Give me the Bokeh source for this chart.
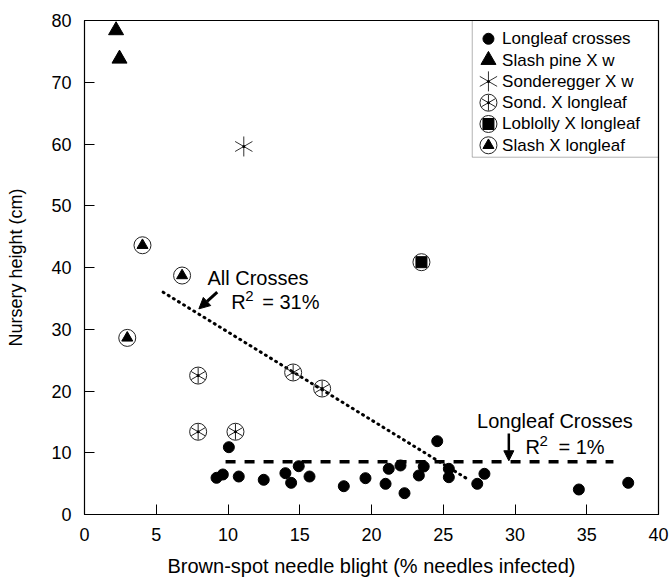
from bokeh.plotting import figure
from bokeh.models import Range1d, Label, Arrow, NormalHead, BoxAnnotation, FixedTicker
from bokeh.embed import file_html
from bokeh.resources import INLINE

# ---------------- data ----------------
longleaf_x = [10.06, 9.2, 9.64, 10.75, 12.49, 14.0, 14.4, 14.93, 15.68, 18.07, 19.58, 20.98,
              21.2, 22.02, 22.3, 23.3, 23.64, 24.58, 25.39, 25.39, 27.37, 27.87, 34.45, 37.89]
longleaf_y = [10.9, 5.94, 6.48, 6.15, 5.62, 6.69, 5.13, 7.82, 6.15, 4.58, 5.88, 4.97,
              7.4, 7.94, 3.45, 6.32, 7.77, 11.87, 7.4, 6.04, 4.97, 6.59, 4.05, 5.13]

slash_pine_x = [2.2, 2.44]
slash_pine_y = [78.4, 73.8]

sonderegger_x = [11.1]
sonderegger_y = [59.6]

sond_long_x = [7.92, 14.54, 16.56, 7.92, 10.52]
sond_long_y = [22.5, 23.0, 20.4, 13.4, 13.4]

loblolly_x = [23.48]
loblolly_y = [40.86]

slash_long_x = [4.04, 6.8, 2.98]
slash_long_y = [43.6, 38.7, 28.6]

all_fit_x = [5.48, 26.67]
all_fit_y = [36.0, 5.78]

longleaf_fit_x = [9.83, 36.86]
longleaf_fit_y = [8.55, 8.55]

x_ticks = [0, 5, 10, 15, 20, 25, 30, 35, 40]
y_ticks = [0, 10, 20, 30, 40, 50, 60, 70, 80]

legend_labels = ["Longleaf crosses", "Slash pine X w", "Sonderegger X w",
                 "Sond. X longleaf", "Loblolly X longleaf", "Slash X longleaf"]
legend_kinds = ["longleaf", "slash_pine", "sonderegger", "sond_long", "loblolly", "slash_long"]

FONT = "Liberation Sans"
INK = "black"

# ---------------- figure ----------------
p = figure(width=672, height=582, x_range=Range1d(0, 40), y_range=Range1d(0, 80),
           output_backend="svg", toolbar_location=None,
           min_border_left=84, min_border_right=14, min_border_top=20, min_border_bottom=68)
p.background_fill_color = "white"
p.border_fill_color = "white"
p.outline_line_color = INK
p.outline_line_width = 1.2
p.xgrid.visible = False
p.ygrid.visible = False

for ax in (p.xaxis[0], p.yaxis[0]):
    ax.major_tick_in = 10
    ax.major_tick_out = 0
    ax.minor_tick_line_color = None
    ax.axis_line_color = INK
    ax.major_tick_line_color = INK
    ax.major_label_text_font = FONT
    ax.major_label_text_font_size = "18px"
    ax.major_label_text_color = INK
    ax.axis_label_text_font = FONT
    ax.axis_label_text_font_style = "normal"
    ax.axis_label_text_color = INK

p.xaxis[0].ticker = FixedTicker(ticks=x_ticks)
p.yaxis[0].ticker = FixedTicker(ticks=y_ticks)
p.xaxis[0].axis_label = "Brown-spot needle blight (% needles infected)"
p.xaxis[0].axis_label_text_font_size = "20px"
p.xaxis[0].major_label_standoff = 13
p.xaxis[0].axis_label_standoff = 11
p.yaxis[0].axis_label = "Nursery height (cm)"
p.yaxis[0].axis_label_text_font_size = "18px"
p.yaxis[0].major_label_standoff = 13
p.yaxis[0].axis_label_standoff = 22


def draw(kind, xs, ys):
    if kind == "longleaf":
        p.scatter(xs, ys, marker="circle", size=11, fill_color=INK, line_color=INK)
    elif kind == "slash_pine":
        p.scatter(xs, ys, marker="triangle", size=15, fill_color=INK, line_color=INK)
    elif kind == "sonderegger":
        for ang in (90, 30, -30):
            p.scatter(xs, ys, marker="dash", size=20, angle=ang, angle_units="deg",
                      line_color="#333333", line_width=1)
        p.scatter(xs, ys, marker="circle", size=3, fill_color=INK, line_color=None)
    elif kind == "sond_long":
        p.scatter(xs, ys, marker="circle", size=17, fill_color=None, line_color="#222222", line_width=1)
        for ang in (90, 30, -30):
            p.scatter(xs, ys, marker="dash", size=16, angle=ang, angle_units="deg",
                      line_color="#222222", line_width=1)
        p.scatter(xs, ys, marker="circle", size=3, fill_color=INK, line_color=None)
    elif kind == "loblolly":
        p.scatter(xs, ys, marker="circle", size=17, fill_color="white", line_color="#222222", line_width=1)
        p.scatter(xs, ys, marker="square", size=11, fill_color=INK, line_color=INK)
    elif kind == "slash_long":
        p.scatter(xs, ys, marker="circle", size=17, fill_color="white", line_color="#222222", line_width=1)
        p.scatter(xs, ys, marker="triangle", size=11, fill_color=INK, line_color=INK)


# regression lines
p.line(all_fit_x, all_fit_y, line_color=INK, line_width=3, line_dash="1 5", line_cap="round")
p.line(longleaf_fit_x, longleaf_fit_y, line_color=INK, line_width=3.5, line_dash="10 9")

# series
draw("longleaf", longleaf_x, longleaf_y)
draw("slash_pine", slash_pine_x, slash_pine_y)
draw("sonderegger", sonderegger_x, sonderegger_y)
draw("sond_long", sond_long_x, sond_long_y)
draw("loblolly", loblolly_x, loblolly_y)
draw("slash_long", slash_long_x, slash_long_y)


# ---------------- annotations ----------------
def label(x, y, text, size="20px"):
    p.add_layout(Label(x=x, y=y, text=text, text_font=FONT, text_font_size=size,
                       text_color=INK, text_baseline="middle", text_align="left"))


label(8.57, 38.3, "All Crosses")
label(10.22, 34.4, "R")
label(11.2, 35.4, "2", "15px")
label(12.38, 34.4, "= 31%")
p.add_layout(Arrow(x_start=9.25, y_start=36.0, x_end=7.97, y_end=33.3, line_width=3, line_color=INK,
                   end=NormalHead(size=11, fill_color=INK, line_color=INK)))

label(27.36, 15.2, "Longleaf Crosses")
label(30.73, 10.9, "R")
label(31.71, 11.9, "2", "15px")
label(33.03, 10.9, "= 1%")
p.add_layout(Arrow(x_start=29.57, y_start=13.1, x_end=29.57, y_end=8.7, line_width=2.5, line_color=INK,
                   end=NormalHead(size=10, fill_color=INK, line_color=INK)))

# ---------------- legend (drawn manually for composite markers) ----------------
LEG_LEFT, LEG_BOTTOM = 27.02, 57.86
LEG_ROW0, LEG_STEP = 77.04, 3.45
LEG_GLYPH_X, LEG_TEXT_X = 28.15, 29.1
p.add_layout(BoxAnnotation(left=LEG_LEFT, right=40, bottom=LEG_BOTTOM, top=80,
                           fill_color=None, line_color=INK, line_width=1))
for i, (kind, text) in enumerate(zip(legend_kinds, legend_labels)):
    yy = LEG_ROW0 - i * LEG_STEP
    draw(kind, [LEG_GLYPH_X], [yy])
    label(LEG_TEXT_X, yy, text, "17px")

open("out.html", "w").write(file_html(p, INLINE))
